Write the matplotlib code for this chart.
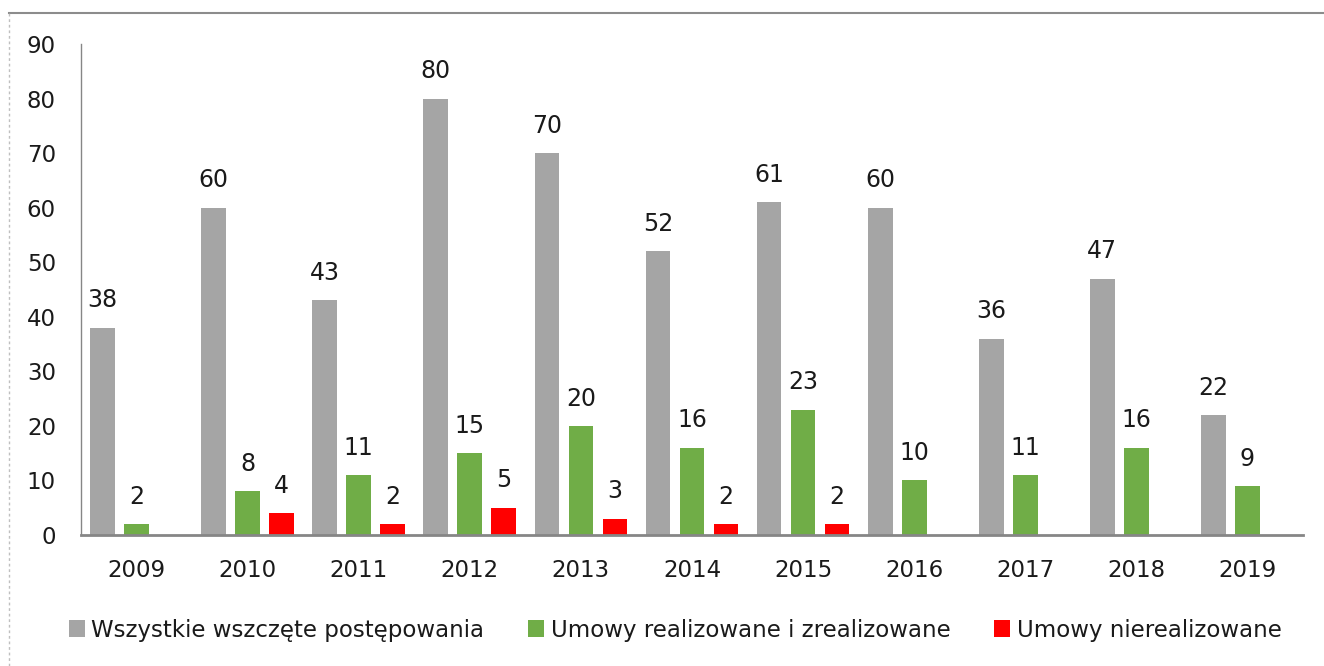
import matplotlib.pyplot as plt
import numpy as np
from matplotlib.lines import Line2D

plt.rcParams.update(
    {
        "font.family": "DejaVu Sans",
        "font.size": 16,
    }
)

years = ["2009", "2010", "2011", "2012", "2013", "2014", "2015", "2016", "2017", "2018", "2019"]
all_started = [38, 60, 43, 80, 70, 52, 61, 60, 36, 47, 22]
realised = [2, 8, 11, 15, 20, 16, 23, 10, 11, 16, 9]
not_realised = [0, 4, 2, 5, 3, 2, 2, 0, 0, 0, 0]

labels = [
    "Wszystkie wszczęte postępowania",
    "Umowy realizowane i zrealizowane",
    "Umowy nierealizowane",
]
COLOUR_GREY = "#A5A5A5"
COLOUR_GREEN = "#70AD47"
COLOUR_RED = "#FF0000"
AXIS_COLOUR = "#868686"
TEXT_COLOUR = "#1a1a1a"

fig = plt.figure(figsize=(13.24, 6.66), dpi=100)
ax = fig.add_axes([81 / 1324, 1 - 535 / 666, (1303 - 81) / 1324, (535 - 44) / 666])

x = np.arange(len(years))
w = 0.222
step = 0.306
series = [
    (all_started, -step, COLOUR_GREY),
    (realised, 0.0, COLOUR_GREEN),
    (not_realised, step, COLOUR_RED),
]
for (vals, off, col), lab in zip(series, labels):
    vals = np.array(vals)
    bars = ax.bar(x + off, vals, w, color=col, label=lab)
    # value labels only where a bar exists
    for b, v in zip(bars, vals):
        if v > 0:
            ax.annotate(
                f"{v}",
                (b.get_x() + b.get_width() / 2, v),
                xytext=(0, 11),
                textcoords="offset points",
                ha="center",
                va="bottom",
                fontsize=17,
                color=TEXT_COLOUR,
            )

ax.set_xlim(-0.5, len(years) - 0.5)
ax.set_ylim(0, 90)
ax.set_yticks(np.arange(0, 91, 10))
ax.set_xticks(x)
ax.set_xticklabels(years)
ax.tick_params(axis="both", length=0, labelsize=16.5, colors=TEXT_COLOUR)
ax.tick_params(axis="y", pad=18)
ax.tick_params(axis="x", pad=17)
for s in ["top", "right"]:
    ax.spines[s].set_visible(False)
for s in ["left", "bottom"]:
    ax.spines[s].set_color(AXIS_COLOUR)
ax.spines["left"].set_linewidth(1.0)
ax.spines["bottom"].set_linewidth(2.0)

leg = fig.legend(
    loc="center",
    bbox_to_anchor=(0.51, 1 - 630 / 666),
    ncol=3,
    frameon=False,
    fontsize=16.5,
    handlelength=0.7,
    handleheight=0.7,
    handletextpad=0.3,
    columnspacing=1.9,
)
for t in leg.get_texts():
    t.set_color(TEXT_COLOUR)

# chart frame: top border and dashed left border
fig.add_artist(Line2D([9 / 1324, 1], [1 - 13 / 666, 1 - 13 / 666], color="#8C8C8C", lw=1.5))
fig.add_artist(Line2D([9 / 1324, 9 / 1324], [0, 1 - 13 / 666], color="#BFBFBF", lw=1.0, ls=(0, (2, 2))))

fig.savefig("out.png", dpi=100)
